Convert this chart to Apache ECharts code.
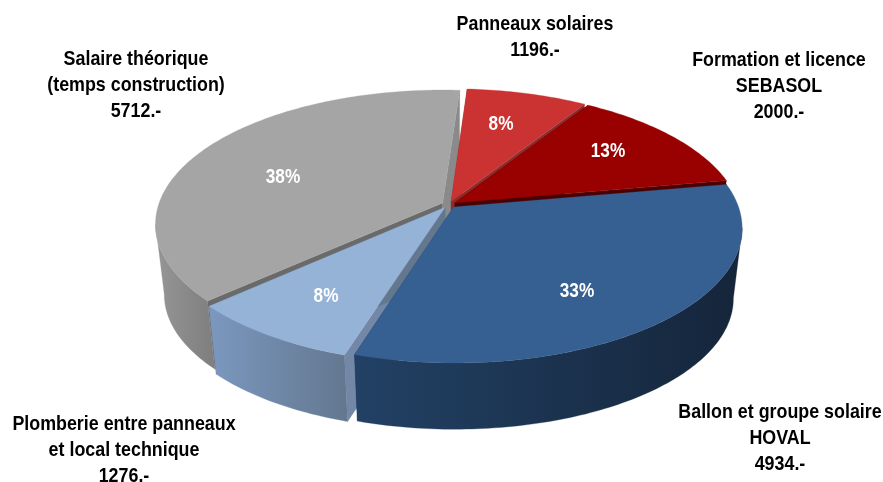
<!DOCTYPE html>
<html>
<head>
<meta charset="utf-8">
<style>
html, body { margin: 0; padding: 0; background: #fff; }
#chart { width: 883px; height: 482px; }
</style>
<script src="https://cdn.jsdelivr.net/npm/echarts@6/dist/echarts.min.js"></script>
</head>
<body>
<div id="chart"></div>
<script>
// clockwise from the top, same order as the source sheet
const categories = [
    ['Panneaux solaires'],
    ['Formation et licence', 'SEBASOL'],
    ['Ballon et groupe solaire', 'HOVAL'],
    ['Plomberie entre panneaux', 'et local technique'],
    ['Salaire théorique', '(temps construction)']
]
const costs = [1196, 2000, 4934, 1276, 5712]

const topColors = ['#CB3333', '#990000', '#376092', '#95B3D7', '#A5A5A5']
const sideColors = [
    ['#8f2a2a', '#8f2a2a'],
    ['#5a0000', '#5a0000'],
    ['#224165', '#15253a'],
    ['#7b98bf', '#63778f'],
    ['#969696', '#7e7e7e']
]
const startWallColors = ['#8a2d2d', '#5a0000', '#4a0000', '#7388a6', '#6a6a6a']
const endWallColors = ['#8a2d2d', '#4a0000', '#224165', '#63778f', '#8a8a8a']
// painter order: far slices first
const drawRank = [1, 2, 4, 3, 0]

// label placement, centre x and first line middle y
const outerLabelPos = [[535, 24], [779, 60], [780, 412], [124, 424], [136, 59]]
const percentLabelPos = [[501, 124], [608, 151], [577, 291], [326, 296], [283, 177]]

// 3d pie geometry
const cx = 449
const cy = 204.5
const radiusX = 284
const radiusY = 131
const perspective = 0.155
const depth = 71
const bottomScale = 0.97
const explode = 0.025
const firstAngle = 3.8

const total = costs.reduce((a, b) => a + b, 0)
// outer wall is only seen between the two silhouette tangents
const tangentRight = Math.acos(-perspective) * 180 / Math.PI
const tangentLeft = 360 - tangentRight

function project (x, y, bottom) {
    const s = 1 / (1 + perspective * y)
    const k = bottom ? bottomScale : 1
    return [cx + radiusX * x * s * k, cy - radiusY * y * s * k + (bottom ? depth : 0)]
}

function rimPoint (deg, off, bottom) {
    const t = deg * Math.PI / 180
    return project(Math.sin(t) + off[0], Math.cos(t) + off[1], bottom)
}

function arcPoints (from, to, off, bottom) {
    const pts = []
    for (let a = from; a < to; a += 1) pts.push(rimPoint(a, off, bottom))
    pts.push(rimPoint(to, off, bottom))
    return pts
}

function buildSlice (idx, start, end) {
    const mid = (start + end) / 2 * Math.PI / 180
    const off = [explode * Math.sin(mid), explode * Math.cos(mid)]
    const topArc = arcPoints(start, end, off, false)
    const apexTop = project(off[0], off[1], false)
    const apexBottom = project(off[0], off[1], true)
    const z = drawRank[idx] * 10

    const poly = (points, fill, z2) => ({
        type: 'polygon',
        z2: z2,
        shape: { points: points },
        style: { fill: fill, stroke: fill, lineWidth: 0.3 },
        silent: true
    })
    const parts = [
        poly([apexTop, rimPoint(start, off, false), rimPoint(start, off, true), apexBottom], startWallColors[idx], z),
        poly([apexTop, rimPoint(end, off, false), rimPoint(end, off, true), apexBottom], endWallColors[idx], z + 1)
    ]
    const wallFrom = Math.max(start, tangentRight)
    const wallTo = Math.min(end, tangentLeft)
    if (wallFrom < wallTo) {
        const sideFill = new echarts.graphic.LinearGradient(0, 0, 1, 0, [
            { offset: 0, color: sideColors[idx][0] },
            { offset: 1, color: sideColors[idx][1] }
        ])
        const band = arcPoints(wallFrom, wallTo, off, false).concat(arcPoints(wallFrom, wallTo, off, true).reverse())
        parts.push(poly(band, sideFill, z + 2))
    }
    parts.push(poly([apexTop].concat(topArc), topColors[idx], z + 3))
    return parts
}

function textEl (str, x, y, color, stretch, z2) {
    return {
        type: 'text',
        x: x,
        y: y,
        scaleX: stretch,
        z2: z2,
        silent: true,
        style: {
            text: str,
            x: 0,
            y: 0,
            fill: color,
            font: 'bold 21px "Liberation Sans", Arial, sans-serif',
            textAlign: 'center',
            textVerticalAlign: 'middle'
        }
    }
}

const chart = echarts.init(document.getElementById('chart'))

chart.setOption({
    animation: false,
    backgroundColor: '#ffffff',
    series: [{
        type: 'custom',
        coordinateSystem: 'none',
        clip: false,
        data: costs.map((v, i) => ({ value: [i, v], name: categories[i].join(' ') })),
        renderItem: (params, api) => {
            const idx = api.value(0)
            let before = 0
            for (let i = 0; i < idx; i++) before += costs[i]
            const start = firstAngle + before / total * 360
            const end = start + api.value(1) / total * 360

            const children = buildSlice(idx, start, end)

            const percent = Math.round(api.value(1) / total * 100) + '%'
            children.push(textEl(percent, percentLabelPos[idx][0], percentLabelPos[idx][1], '#ffffff', 0.82, 100))

            const lines = categories[idx].concat([api.value(1) + '.-'])
            lines.forEach((line, n) => {
                children.push(textEl(line, outerLabelPos[idx][0], outerLabelPos[idx][1] + n * 26, '#000000', 0.85, 100))
            })
            return { type: 'group', children: children }
        }
    }]
})
</script>
</body>
</html>
